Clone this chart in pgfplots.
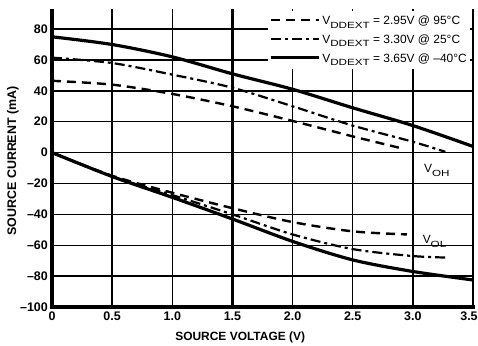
\documentclass[border=0pt]{standalone}
\usepackage{fontspec}
\setmainfont{Liberation Sans}
\newfontfamily\subfont{Liberation Sans}[FakeStretch=1.3]
\usepackage{pgfplots}
\pgfplotsset{compat=1.18}
\newcommand\vsub[1]{V\raisebox{-0.55ex}{\subfont\fontsize{9}{10}\selectfont #1}}

\begin{document}
\begin{tikzpicture}
\useasboundingbox (0,0) rectangle (478bp,346bp);
\begin{axis}[
  at={(52bp,39bp)}, anchor=south west,
  scale only axis, width=421bp, height=298bp,
  xmin=0, xmax=3.5, ymin=-100, ymax=93,
  xtick={0,0.5,1,1.5,2,2.5,3,3.5},
  ytick={-100,-80,-60,-40,-20,0,20,40,60,80},
  xticklabels={0,0.5,1.0,1.5,2.0,2.5,3.0,{\hspace*{-8bp}3.5}},
  yticklabels={–100,–80,–60,–40,–20,0,20,40,60,80},
  major tick length=0,
  grid=major, grid style={black, line width=1.4bp},
  axis line style={draw=none},
  clip=false,
  tick label style={font=\fontsize{12.5}{13}\selectfont\bfseries},
  xticklabel style={inner sep=0pt, yshift=-5bp, anchor=north},
  yticklabel style={inner sep=0pt, xshift=-4bp, anchor=east},
  xlabel={SOURCE VOLTAGE (V)},
  xlabel style={font=\fontsize{12}{13}\selectfont\bfseries, at={(axis description cs:0.447,0)}, anchor=north, yshift=-25bp, inner sep=0pt},
  legend style={at={(1,1)}, anchor=north east, xshift=-3bp, yshift=-2bp, fill=white, draw=none, inner xsep=1bp, inner ysep=3bp, font=\fontsize{12}{13}\selectfont, row sep=4.5bp},
  legend cell align=left,
  legend image code/.code={\draw[#1] (0bp,1bp) -- (48bp,1bp);},
]
% frame lines
\draw[line width=3bp] (axis cs:0,-100) -- (axis cs:0,93);
\draw[line width=3bp, line cap=rect] (axis cs:0,-100) -- (axis cs:3.5,-100);
\draw[line width=3bp] (axis cs:1.5,-100) -- (axis cs:1.5,93);
\draw[line width=1.5bp] (axis cs:3.5,-100) -- (axis cs:3.5,93);

% VOH curves
\addplot[black, line width=2.4bp, dash pattern=on 9bp off 6bp, smooth] coordinates {
(0,46.5)(0.5,44)(1.0,38)(1.5,30)(2.0,20.5)(2.5,10.5)(2.92,2.5)};
\addlegendentry{\vsub{DDEXT} = 2.95V @ 95°C}
\addplot[black, line width=2.2bp, dash pattern=on 10bp off 4bp on 3bp off 4bp, smooth] coordinates {
(0,61.5)(0.5,58)(1.0,50.5)(1.5,42)(2.0,30)(2.5,17.5)(3.0,7)(3.27,0.5)};
\addlegendentry{\vsub{DDEXT} = 3.30V @ 25°C}
\addplot[black, line width=3.2bp, smooth] coordinates {
(0,75)(0.5,70)(1.0,62)(1.5,51)(2.0,41)(2.5,29)(3.0,17.5)(3.5,4)};
\addlegendentry{\vsub{DDEXT} = 3.65V @ –40°C}

% VOL curves
\addplot[black, line width=2.4bp, dash pattern=on 9bp off 6bp, smooth, forget plot] coordinates {
(0,0)(0.5,-15)(1.0,-26)(1.5,-36)(2.0,-45)(2.5,-51)(2.95,-53)};
\addplot[black, line width=2.2bp, dash pattern=on 10bp off 4bp on 3bp off 4bp, smooth, forget plot] coordinates {
(0,0)(0.5,-15.5)(1.0,-27.5)(1.5,-40)(2.0,-53)(2.5,-62.5)(3.0,-67)(3.3,-68)};
\addplot[black, line width=3.2bp, smooth, forget plot] coordinates {
(0,0)(0.5,-15.5)(1.0,-29)(1.5,-43)(2.0,-57.5)(2.5,-69.5)(3.0,-77)(3.5,-82.5)};

\node[font=\fontsize{12}{13}\selectfont] at (axis cs:3.2,-11.5) {\vsub{OH}};
\node[font=\fontsize{12}{13}\selectfont] at (axis cs:3.18,-57.5) {\vsub{OL}};
\node[font=\fontsize{12.5}{13}\selectfont\bfseries, rotate=90, anchor=south, inner sep=0pt]
  at ([xshift=-33bp]axis description cs:0,0.49) {SOURCE CURRENT (mA)};
\end{axis}
\end{tikzpicture}
\end{document}
